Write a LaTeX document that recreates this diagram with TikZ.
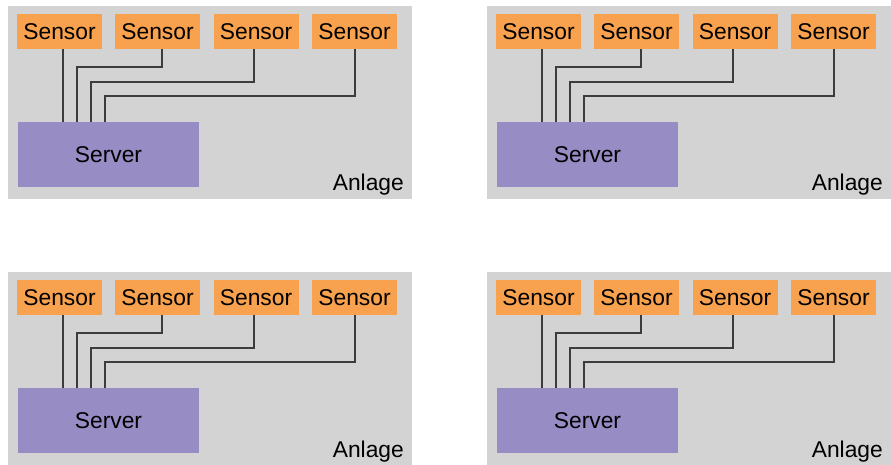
\documentclass[tikz,border=0pt]{standalone}
\usepackage{fontspec}
\setmainfont{Liberation Sans}
\definecolor{plantgray}{HTML}{D3D3D3}
\definecolor{sensororange}{HTML}{F8A14E}
\definecolor{serverpurple}{HTML}{978CC4}
\definecolor{wiregray}{HTML}{3C3C3C}
\begin{document}
\begin{tikzpicture}[x=1pt,y=-1pt,
  plant/.style={fill=plantgray,draw=none},
  sensorbox/.style={fill=sensororange,draw=none,minimum width=85pt,minimum height=35pt,
    inner sep=0pt,font=\fontsize{22.8}{24}\selectfont},
  serverbox/.style={fill=serverpurple,draw=none,minimum width=181pt,minimum height=65pt,
    inner sep=0pt,font=\fontsize{22.8}{24}\selectfont},
  plantlabel/.style={anchor=base east,inner sep=0pt,font=\fontsize{22.8}{24}\selectfont},
  wire/.style={draw=wiregray,line width=1.6pt}]
\useasboundingbox (0,0) rectangle (891,465);
\fill[white] (0,0) rectangle (891,465);
\foreach \p/\dx/\dy in {a/0/0, b/479/0, c/0/266, d/479/266}{
  \begin{scope}[shift={(\dx,\dy)}]
    % plant area
    \fill[plant] (8,6) rectangle (412,199);
    \node[plantlabel] (anlage-\p) at (404,191) {Anlage};
    % sensors and server
    \node[sensorbox] (s1-\p) at (59.5,31.5) {Sensor};
    \node[sensorbox] (s2-\p) at (157.5,31.5) {Sensor};
    \node[sensorbox] (s3-\p) at (256,31.5) {Sensor};
    \node[sensorbox] (s4-\p) at (354.5,31.5) {Sensor};
    \node[serverbox] (srv-\p) at (108.5,154.5) {Server};
    % wiring
    \draw[wire] ([xshift=3.5pt]s1-\p.south) -- ([xshift=-45.5pt]srv-\p.north);
    \draw[wire] ([xshift=4.5pt]s2-\p.south) |- ([xshift=-31.5pt,yshift=55pt]srv-\p.north)
      -- ([xshift=-31.5pt]srv-\p.north);
    \draw[wire] ([xshift=-2pt]s3-\p.south) |- ([xshift=-17.5pt,yshift=40pt]srv-\p.north)
      -- ([xshift=-17.5pt]srv-\p.north);
    \draw[wire] ([xshift=0.5pt]s4-\p.south) |- ([xshift=-3.5pt,yshift=26pt]srv-\p.north)
      -- ([xshift=-3.5pt]srv-\p.north);
  \end{scope}
}
\end{tikzpicture}
\end{document}
